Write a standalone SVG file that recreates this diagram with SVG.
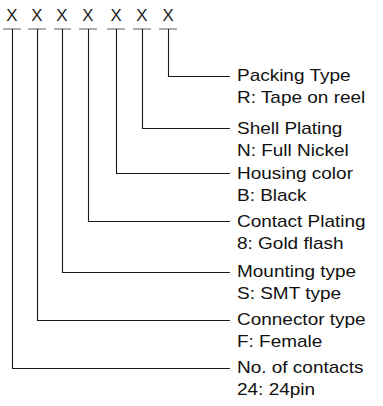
<svg xmlns="http://www.w3.org/2000/svg" width="383" height="406" viewBox="0 0 383 406">
<style>
.t{font-family:"Liberation Sans",Arial,sans-serif;font-size:16.8px;fill:#111}
.x{font-family:"Liberation Sans",Arial,sans-serif;font-size:16px;fill:#222;text-anchor:middle}
.u{stroke:#777;stroke-width:1.2}
.c{stroke:#1a1a1a;stroke-width:1.1;fill:none}
</style>
<rect width="383" height="406" fill="#fff"/>
<g id="code">
<g transform="scale(1.05,1)">
<text class="x" x="11.4" y="21.5">X</text>
<text class="x" x="35.2" y="21.5">X</text>
<text class="x" x="59" y="21.5">X</text>
<text class="x" x="83.8" y="21.5">X</text>
<text class="x" x="110.5" y="21.5">X</text>
<text class="x" x="135.2" y="21.5">X</text>
<text class="x" x="160" y="21.5">X</text>
</g>
<line class="u" x1="3" y1="29" x2="21" y2="29"/>
<line class="u" x1="28" y1="29" x2="46" y2="29"/>
<line class="u" x1="54" y1="29" x2="71" y2="29"/>
<line class="u" x1="79" y1="29" x2="97" y2="29"/>
<line class="u" x1="107" y1="29" x2="125" y2="29"/>
<line class="u" x1="133" y1="29" x2="151" y2="29"/>
<line class="u" x1="159" y1="29" x2="177" y2="29"/>
</g>
<g id="connectors">
<path class="c" d="M168.5 29V76.5H230"/>
<path class="c" d="M142.5 29V128.5H230"/>
<path class="c" d="M116.5 29V173.5H230"/>
<path class="c" d="M88.5 29V221.5H230"/>
<path class="c" d="M62.5 29V272.5H230"/>
<path class="c" d="M37.5 29V320.5H230"/>
<path class="c" d="M12.5 29V368.5H230"/>
</g>
<g id="packing" transform="translate(237,0) scale(1.13,1)">
<text class="t" y="81">Packing Type</text>
<text class="t" y="103">R: Tape on reel</text>
</g>
<g id="shell" transform="translate(237,0) scale(1.13,1)">
<text class="t" y="134">Shell Plating</text>
<text class="t" y="156">N: Full Nickel</text>
</g>
<g id="housing" transform="translate(237,0) scale(1.13,1)">
<text class="t" y="179">Housing color</text>
<text class="t" y="201">B: Black</text>
</g>
<g id="contact" transform="translate(237,0) scale(1.13,1)">
<text class="t" y="227">Contact Plating</text>
<text class="t" y="249">8: Gold flash</text>
</g>
<g id="mounting" transform="translate(237,0) scale(1.13,1)">
<text class="t" y="277">Mounting type</text>
<text class="t" y="299">S: SMT type</text>
</g>
<g id="conntype" transform="translate(237,0) scale(1.13,1)">
<text class="t" y="325">Connector type</text>
<text class="t" y="347">F: Female</text>
</g>
<g id="contacts" transform="translate(237,0) scale(1.13,1)">
<text class="t" y="373">No. of contacts</text>
<text class="t" y="395">24: 24pin</text>
</g>
</svg>
